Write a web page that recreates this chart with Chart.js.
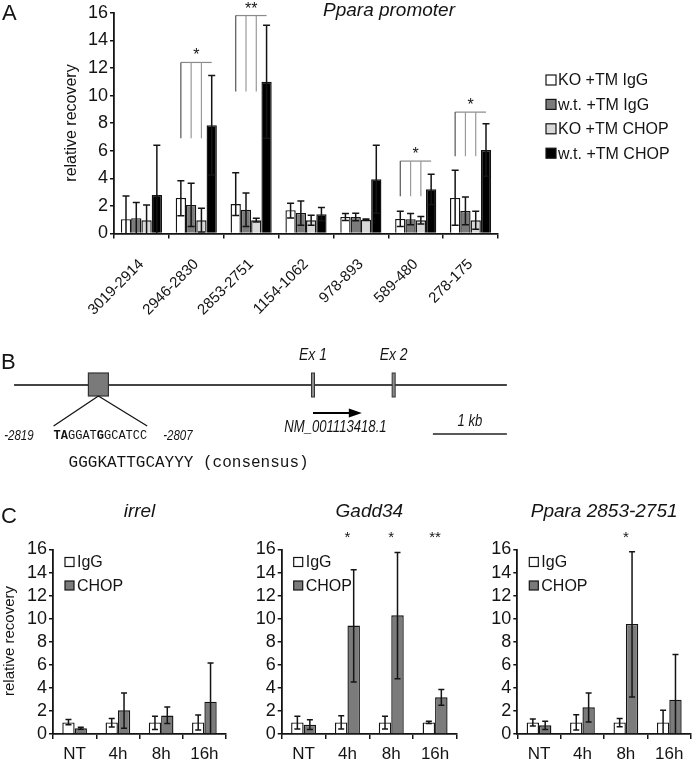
<!DOCTYPE html>
<html>
<head>
<meta charset="utf-8">
<script src="https://cdn.jsdelivr.net/npm/chart.js@4.4.1/dist/chart.umd.min.js"></script>
<style>
    html, body { margin: 0; padding: 0; background: #fff; }
    #wrap { position: relative; width: 693px; height: 765px; overflow: hidden; }
    canvas { position: absolute; }
</style>
</head>
<body>
<div id="wrap">
    <canvas id="chartA" width="693" height="320" style="left:0;top:0"></canvas>
    <canvas id="chartB" width="693" height="150" style="left:0;top:320px"></canvas>
    <canvas id="chartC1" width="231" height="295" style="left:0;top:470px"></canvas>
    <canvas id="chartC2" width="231" height="295" style="left:231px;top:470px"></canvas>
    <canvas id="chartC3" width="231" height="295" style="left:462px;top:470px"></canvas>
</div>
<script>
// --------------------------- Panel A data (Ppara promoter ChIP)

const regionLabels = ['3019-2914', '2946-2830', '2853-2751', '1154-1062', '978-893', '589-480', '278-175'];

const koIgG      = [1.04, 2.58, 2.14, 1.69, 1.20, 1.06, 2.58];
const koIgGLow   = [0.00, 1.28, 1.30, 1.13, 0.95, 0.50, 0.60];
const koIgGHigh  = [2.72, 3.83, 4.41, 2.19, 1.45, 1.61, 4.58];

const wtIgG      = [1.11, 2.07, 1.73, 1.49, 1.20, 1.04, 1.64];
const wtIgGLow   = [0.00, 0.50, 0.50, 0.60, 0.93, 0.63, 0.63];
const wtIgGHigh  = [2.24, 3.64, 2.94, 2.36, 1.47, 1.45, 2.65];

const koChop     = [0.96, 0.96, 0.96, 0.96, 1.00, 0.96, 0.96];
const koChopLow  = [0.00, 0.10, 0.84, 0.60, 0.95, 0.69, 0.31];
const koChopHigh = [2.07, 1.83, 1.10, 1.33, 1.05, 1.23, 1.61];

const wtChop     = [2.80, 7.85, 11.0, 1.40, 3.93, 3.20, 6.05];
const wtChopLow  = [0.00, 4.25, 6.90, 0.92, 1.47, 2.10, 4.15];
const wtChopHigh = [6.40, 11.45, 15.1, 1.88, 6.39, 4.29, 7.95];

// significance brackets (region index, bracket top, leg bottom, mark)
const sigRegion = [1, 2, 5, 6];
const sigTop    = [12.4, 15.8, 5.25, 8.8];
const sigBottom = [6.9, 10.3, 2.7, 5.6];
const sigText   = ['*', '**', '*', '*'];

// --------------------------- Panel B positions (kb, relative to Ex 1)

const backbone = [-4.04, 2.62];
const chopSite = -2.9;
const exonStarts = [0, 1.09];
const exonNames = ['Ex 1', 'Ex 2'];
const transcriptArrow = [0, 0.66];
const scaleBar = [1.62, 2.62];

// --------------------------- Panel C data (time course)

const timeLabels = ['NT', '4h', '8h', '16h'];

const irrelIgG      = [1.0, 1.0, 1.0, 1.0];
const irrelIgGLow   = [0.8, 0.6, 0.4, 0.35];
const irrelIgGHigh  = [1.25, 1.35, 1.55, 1.65];
const irrelChop     = [0.5, 2.05, 1.6, 2.8];
const irrelChopLow  = [0.42, 0.5, 0.9, 0];
const irrelChopHigh = [0.58, 3.55, 2.35, 6.15];

const gaddIgG      = [1.0, 1.0, 1.0, 1.0];
const gaddIgGLow   = [0.43, 0.43, 0.43, 0.9];
const gaddIgGHigh  = [1.53, 1.59, 1.53, 1.1];
const gaddChop     = [0.8, 9.4, 10.3, 3.18];
const gaddChopLow  = [0.4, 4.5, 4.8, 2.49];
const gaddChopHigh = [1.24, 14.25, 15.75, 3.85];
const gaddStars    = ['', '*', '*', '**'];

const pparaIgG      = [1.0, 1.0, 1.0, 1.0];
const pparaIgGLow   = [0.7, 0.35, 0.62, 0];
const pparaIgGHigh  = [1.3, 1.68, 1.35, 2.05];
const pparaChop     = [0.75, 2.31, 9.55, 2.98];
const pparaChopLow  = [0.4, 1.03, 3.2, 0];
const pparaChopHigh = [1.1, 3.55, 15.8, 6.9];
const pparaStars    = ['', '', '*', ''];

// --------------------------- Styling

const SANS = "'Liberation Sans', Arial, sans-serif";
const MONO = "'Liberation Mono', 'Courier New', monospace";
const INK = '#141414';
const COLORS = { white: '#ffffff', dark: '#7b7b7b', light: '#d8d8d8', black: '#000000' };

Chart.defaults.font.family = SANS;
Chart.defaults.color = INK;
Chart.defaults.animation = false;

// narrow italic text like the original figure (Arial Narrow look)
function narrowText(ctx, text, x, y, size, align, italic) {
    ctx.save();
    ctx.font = (italic ? 'italic ' : '') + size + 'px ' + SANS;
    ctx.textBaseline = 'middle';
    const w = ctx.measureText(text).width * 0.82;
    let x0 = x;
    if (align === 'center') x0 = x - w / 2;
    if (align === 'right') x0 = x - w;
    ctx.translate(x0, y);
    ctx.scale(0.82, 1);
    ctx.textAlign = 'left';
    ctx.fillText(text, 0, 0);
    ctx.restore();
}

// --------------------------- Plugins

const errorBars = {
    id: 'errorBars',
    afterDatasetsDraw(chart) {
        const ctx = chart.ctx;
        const ys = chart.scales.y;
        chart.data.datasets.forEach((ds, i) => {
            if (!ds.errLow) return;
            const meta = chart.getDatasetMeta(i);
            ctx.save();
            ctx.strokeStyle = INK;
            ctx.lineWidth = 1.5;
            meta.data.forEach((bar, j) => {
                const yl = ys.getPixelForValue(Math.max(0, ds.errLow[j]));
                const yh = ys.getPixelForValue(ds.errHigh[j]);
                const cw = ds.capWidth;
                ctx.beginPath();
                ctx.moveTo(bar.x, yl);
                ctx.lineTo(bar.x, yh);
                ctx.moveTo(bar.x - cw, yh);
                ctx.lineTo(bar.x + cw, yh);
                if (ds.errLow[j] > 0) {
                    ctx.moveTo(bar.x - cw, yl);
                    ctx.lineTo(bar.x + cw, yl);
                }
                ctx.stroke();
            });
            ctx.restore();
        });
    }
};

const panelADecor = {
    id: 'panelADecor',
    afterDraw(chart) {
        const ctx = chart.ctx;
        const ys = chart.scales.y;
        ctx.save();
        ctx.fillStyle = INK;
        ctx.textBaseline = 'middle';

        ctx.font = '22px ' + SANS;
        ctx.textAlign = 'left';
        ctx.fillText('A', 2, 14);

        ctx.font = 'italic 19px ' + SANS;
        ctx.textAlign = 'center';
        ctx.fillText('Ppara promoter', 389, 11);

        ctx.save();
        ctx.translate(72, 123);
        ctx.rotate(-Math.PI / 2);
        ctx.font = '16px ' + SANS;
        ctx.fillText('relative recovery', 0, 0);
        ctx.restore();

        // legend
        ctx.font = '16px ' + SANS;
        ctx.textAlign = 'left';
        chart.data.datasets.forEach((ds, i) => {
            const yc = 80 + i * 24.4;
            ctx.fillStyle = ds.backgroundColor;
            ctx.fillRect(546, yc - 5, 10, 10);
            ctx.strokeStyle = INK;
            ctx.lineWidth = 1.2;
            ctx.strokeRect(546, yc - 5, 10, 10);
            ctx.fillStyle = INK;
            ctx.fillText(ds.label, 558, yc + 1);
        });

        // significance brackets
        sigRegion.forEach((ci, k) => {
            const xs = [0, 1, 2, 3].map(d => chart.getDatasetMeta(d).data[ci].x);
            const yt = ys.getPixelForValue(sigTop[k]);
            const yb = ys.getPixelForValue(sigBottom[k]);
            ctx.lineWidth = 1.2;
            ctx.strokeStyle = '#8a8a8a';
            ctx.beginPath();
            ctx.moveTo(xs[0], yt);
            ctx.lineTo(xs[3], yt);
            ctx.stroke();
            for (let d = 0; d < 3; d++) {
                ctx.strokeStyle = d === 0 ? '#555' : '#999';
                ctx.beginPath();
                ctx.moveTo(xs[d], yt);
                ctx.lineTo(xs[d], yb);
                ctx.stroke();
            }
            ctx.fillStyle = INK;
            ctx.font = '16px ' + SANS;
            ctx.textAlign = 'center';
            ctx.textBaseline = 'alphabetic';
            ctx.fillText(sigText[k], (xs[0] + xs[3]) / 2, yt - 2);
            ctx.textBaseline = 'middle';
        });
        ctx.restore();
    }
};

const panelBDraw = {
    id: 'panelBDraw',
    afterDraw(chart) {
        const ctx = chart.ctx;
        const xs = chart.scales.x;
        const yBase = chart.scales.y.getPixelForValue(0);
        ctx.save();
        ctx.fillStyle = INK;

        ctx.font = '22px ' + SANS;
        ctx.textBaseline = 'middle';
        ctx.fillText('B', 1, 43);

        // CHOP binding site box
        const cx = xs.getPixelForValue(chopSite);
        ctx.fillStyle = '#7a7a7a';
        ctx.fillRect(cx - 10, yBase - 12, 20, 23);
        ctx.strokeStyle = '#333';
        ctx.lineWidth = 1.2;
        ctx.strokeRect(cx - 10, yBase - 12, 20, 23);

        // exons
        exonStarts.forEach((e, i) => {
            const ex = xs.getPixelForValue(e);
            ctx.fillStyle = '#8c8c8c';
            ctx.fillRect(ex - 1.5, yBase - 12, 3, 24);
            ctx.strokeStyle = '#333';
            ctx.lineWidth = 1;
            ctx.strokeRect(ex - 1.5, yBase - 12, 3, 24);
            ctx.fillStyle = INK;
            narrowText(ctx, exonNames[i], ex, yBase - 30, 17, 'center', true);
        });

        // sequence with bold core
        const seq = [['TA', true], ['GGAT', false], ['G', true], ['GCATCC', false]];
        ctx.font = '12px ' + MONO;
        const charW = ctx.measureText('G').width;
        const seqW = charW * 13;
        const seqStart = cx + 2 - seqW / 2;
        const seqY = yBase + 51;
        ctx.strokeStyle = INK;
        ctx.lineWidth = 1.3;
        ctx.beginPath();
        ctx.moveTo(cx, yBase + 11);
        ctx.lineTo(seqStart, yBase + 41);
        ctx.moveTo(cx, yBase + 11);
        ctx.lineTo(seqStart + seqW, yBase + 41);
        ctx.stroke();

        ctx.fillStyle = INK;
        ctx.textAlign = 'left';
        let px = seqStart;
        seq.forEach(([s, bold]) => {
            ctx.font = (bold ? 'bold ' : '') + '12px ' + MONO;
            ctx.fillText(s, px, seqY);
            px += charW * s.length;
        });
        narrowText(ctx, '-2819', seqStart - 20, seqY, 14, 'right', true);
        narrowText(ctx, '-2807', seqStart + seqW + 16, seqY, 14, 'left', true);

        ctx.font = '16px ' + MONO;
        ctx.textAlign = 'left';
        ctx.fillText('GGGKATTGCAYYY (consensus)', seqStart + 15, yBase + 78);

        // transcript arrow head
        const ax0 = xs.getPixelForValue(transcriptArrow[0]);
        const ax1 = xs.getPixelForValue(transcriptArrow[1]);
        const ay = chart.scales.y.getPixelForValue(-2.8);
        ctx.fillStyle = '#000';
        ctx.beginPath();
        ctx.moveTo(ax1, ay);
        ctx.lineTo(ax1 - 13, ay - 4.5);
        ctx.lineTo(ax1 - 13, ay + 4.5);
        ctx.closePath();
        ctx.fill();
        ctx.fillStyle = INK;
        narrowText(ctx, 'NM_001113418.1', (ax0 + ax1) / 2 - 2, yBase + 43, 16, 'center', true);

        // scale bar label
        const s0 = xs.getPixelForValue(scaleBar[0]);
        const s1 = xs.getPixelForValue(scaleBar[1]);
        narrowText(ctx, '1 kb', (s0 + s1) / 2, yBase + 37, 16, 'center', true);
        ctx.restore();
    }
};

function timeCourseDecor(title, stars, first) {
    return {
        id: 'timeCourseDecor',
        afterDraw(chart) {
            const ctx = chart.ctx;
            const area = chart.chartArea;
            ctx.save();
            ctx.fillStyle = INK;
            ctx.textBaseline = 'middle';
            if (first) {
                ctx.font = '22px ' + SANS;
                ctx.textAlign = 'left';
                ctx.fillText('C', 1, 47);
                ctx.save();
                ctx.translate(10, 171);
                ctx.rotate(-Math.PI / 2);
                ctx.font = '15px ' + SANS;
                ctx.textAlign = 'center';
                ctx.fillText('relative recovery', 0, 0);
                ctx.restore();
            }
            ctx.font = 'italic 19px ' + SANS;
            ctx.textAlign = 'center';
            ctx.fillText(title, (area.left + area.right) / 2, 42);

            // stars above categories
            ctx.font = '15px ' + SANS;
            ctx.textBaseline = 'alphabetic';
            const meta0 = chart.getDatasetMeta(0).data;
            const meta1 = chart.getDatasetMeta(1).data;
            stars.forEach((s, j) => {
                if (!s) return;
                ctx.fillText(s, (meta0[j].x + meta1[j].x) / 2, 72);
            });

            // legend
            ctx.textBaseline = 'middle';
            ctx.textAlign = 'left';
            ctx.font = '16px ' + SANS;
            chart.data.datasets.forEach((ds, i) => {
                const yc = 92 + i * 23.5;
                const lx = area.left + 12;
                ctx.fillStyle = ds.backgroundColor;
                ctx.fillRect(lx, yc - 4.5, 9, 9);
                ctx.strokeStyle = INK;
                ctx.lineWidth = 1.2;
                ctx.strokeRect(lx, yc - 4.5, 9, 9);
                ctx.fillStyle = INK;
                ctx.fillText(ds.label, lx + 12, yc + 1);
            });
            ctx.restore();
        }
    };
}

// --------------------------- Charts

function barSet(label, data, lo, hi, color, cap) {
    return {
        label: label,
        data: data,
        errLow: lo,
        errHigh: hi,
        capWidth: cap,
        backgroundColor: color,
        borderColor: INK,
        borderWidth: 1.4
    };
}

function axisX(fontSize, tickPad, height, rotate) {
    return {
        grid: { offset: true, drawOnChartArea: false, color: INK, lineWidth: 1.5, tickLength: 5 },
        border: { color: INK, width: 1.8 },
        ticks: { font: { size: fontSize }, padding: tickPad, autoSkip: false,
                 minRotation: rotate, maxRotation: rotate, color: INK },
        afterFit: s => { s.height = height; }
    };
}

function axisY(fontSize, width) {
    return {
        min: 0,
        max: 16,
        grid: { drawOnChartArea: false, color: INK, lineWidth: 1.5, tickLength: 4 },
        border: { color: INK, width: 1.8 },
        ticks: { stepSize: 2, autoSkip: false, font: { size: fontSize }, padding: 2, color: INK },
        afterFit: s => { s.width = width; }
    };
}

new Chart(document.getElementById('chartA'), {
    type: 'bar',
    data: {
        labels: regionLabels,
        datasets: [
            barSet('KO +TM IgG', koIgG, koIgGLow, koIgGHigh, COLORS.white, 3.5),
            barSet('w.t. +TM IgG', wtIgG, wtIgGLow, wtIgGHigh, COLORS.dark, 3.5),
            barSet('KO +TM CHOP', koChop, koChopLow, koChopHigh, COLORS.light, 3.5),
            barSet('w.t. +TM CHOP', wtChop, wtChopLow, wtChopHigh, COLORS.black, 3.5)
        ]
    },
    options: {
        responsive: false,
        layout: { padding: { left: 0, top: 12, right: 195, bottom: 0 } },
        datasets: { bar: { categoryPercentage: 0.75, barPercentage: 1 } },
        plugins: { legend: { display: false }, tooltip: { enabled: false } },
        scales: {
            x: axisX(15, 17, 86.5, 45),
            y: axisY(18, 114)
        }
    },
    plugins: [errorBars, panelADecor]
});

new Chart(document.getElementById('chartB'), {
    type: 'scatter',
    data: {
        datasets: [
            { data: backbone.map(v => ({ x: v, y: 0 })), borderColor: '#444', borderWidth: 2 },
            { data: transcriptArrow.map((v, i) => ({ x: i ? v - 0.12 : v, y: -2.8 })), borderColor: '#000', borderWidth: 2.2 },
            { data: scaleBar.map(v => ({ x: v, y: -4.9 })), borderColor: '#222', borderWidth: 1.5 }
        ]
    },
    options: {
        responsive: false,
        showLine: true,
        elements: { point: { radius: 0 } },
        layout: { padding: 0 },
        plugins: { legend: { display: false }, tooltip: { enabled: false } },
        scales: {
            x: { type: 'linear', display: false, min: -313 / 74, max: (693 - 313) / 74 },
            y: { type: 'linear', display: false, min: -8.5, max: 6.5 }
        }
    },
    plugins: [panelBDraw]
});

function timeCourse(id, title, igg, iggLo, iggHi, chop, chopLo, chopHi, stars, yWidth, padRight, first) {
    new Chart(document.getElementById(id), {
        type: 'bar',
        data: {
            labels: timeLabels,
            datasets: [
                barSet('IgG', igg, iggLo, iggHi, COLORS.white, 3),
                barSet('CHOP', chop, chopLo, chopHi, COLORS.dark, 3)
            ]
        },
        options: {
            responsive: false,
            layout: { padding: { left: 0, top: 79.5, right: padRight, bottom: 0 } },
            datasets: { bar: { categoryPercentage: 0.57, barPercentage: 1 } },
            plugins: { legend: { display: false }, tooltip: { enabled: false } },
            scales: {
                x: axisX(17, 5, 31, 0),
                y: axisY(18, yWidth)
            }
        },
        plugins: [errorBars, timeCourseDecor(title, stars, first)]
    });
}

timeCourse('chartC1', 'irrel', irrelIgG, irrelIgGLow, irrelIgGHigh,
           irrelChop, irrelChopLow, irrelChopHigh, ['', '', '', ''], 53, 5, true);
timeCourse('chartC2', 'Gadd34', gaddIgG, gaddIgGLow, gaddIgGHigh,
           gaddChop, gaddChopLow, gaddChopHigh, gaddStars, 50.7, 5, false);
timeCourse('chartC3', 'Ppara 2853-2751', pparaIgG, pparaIgGLow, pparaIgGHigh,
           pparaChop, pparaChopLow, pparaChopHigh, pparaStars, 55.3, 2, false);
</script>
</body>
</html>
